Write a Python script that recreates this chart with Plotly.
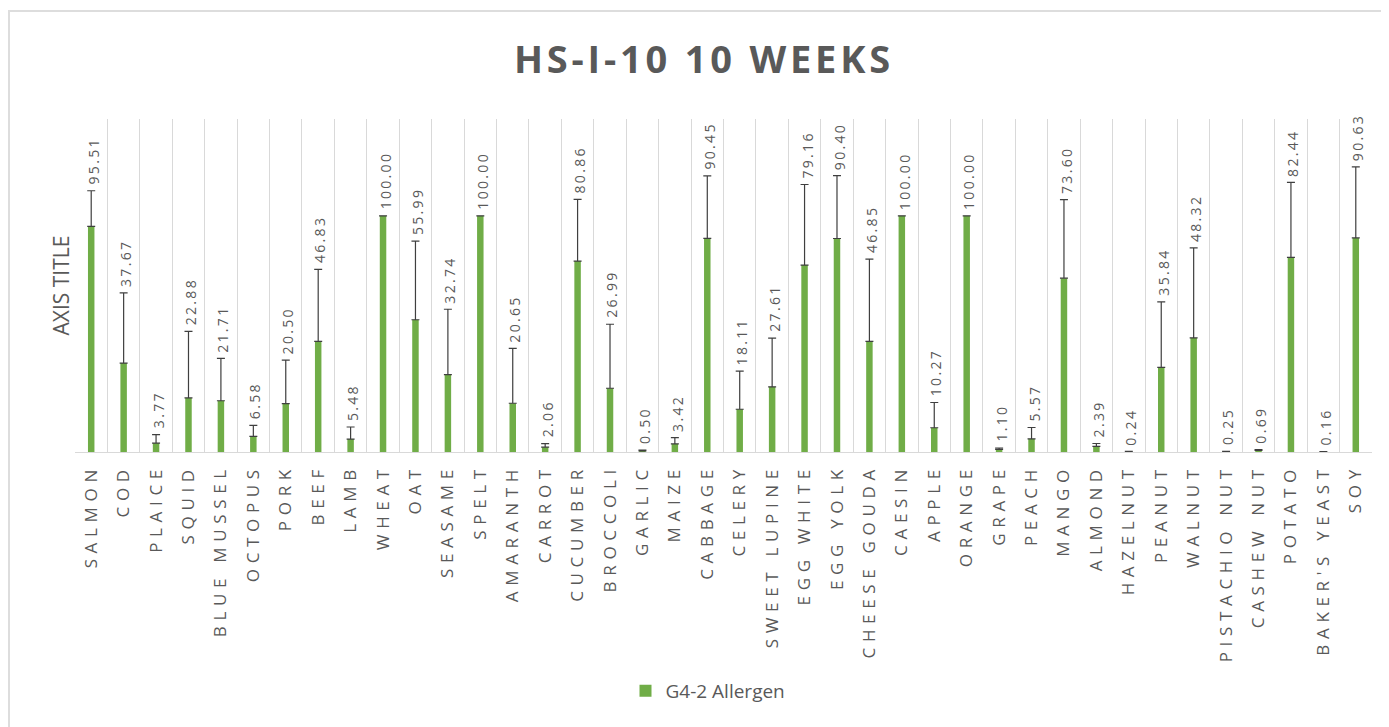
import plotly.graph_objects as go

categories = ["SALMON", "COD", "PLAICE", "SQUID", "BLUE MUSSEL", "OCTOPUS", "PORK", "BEEF", "LAMB",
              "WHEAT", "OAT", "SEASAME", "SPELT", "AMARANTH", "CARROT", "CUCUMBER", "BROCCOLI",
              "GARLIC", "MAIZE", "CABBAGE", "CELERY", "SWEET LUPINE", "EGG WHITE", "EGG YOLK",
              "CHEESE GOUDA", "CAESIN", "APPLE", "ORANGE", "GRAPE", "PEACH", "MANGO", "ALMOND",
              "HAZELNUT", "PEANUT", "WALNUT", "PISTACHIO NUT", "CASHEW NUT", "POTATO",
              "BAKER'S YEAST", "SOY"]
values = [95.51, 37.67, 3.77, 22.88, 21.71, 6.58, 20.50, 46.83, 5.48,
          100.00, 55.99, 32.74, 100.00, 20.65, 2.06, 80.86, 26.99,
          0.50, 3.42, 90.45, 18.11, 27.61, 79.16, 90.40,
          46.85, 100.00, 10.27, 100.00, 1.10, 5.57, 73.60, 2.39,
          0.24, 35.84, 48.32, 0.25, 0.69, 82.44,
          0.16, 90.63]
errors = [15.1, 29.7, 3.6, 28.2, 17.9, 4.7, 18.4, 30.5, 5.1,
          0.0, 33.3, 27.7, 0.0, 23.2, 1.5, 26.1, 27.1,
          0.3, 2.7, 26.5, 16.1, 20.6, 34.1, 26.6,
          34.8, 0.0, 10.7, 0.0, 0.6, 4.8, 33.3, 1.2,
          None, 27.7, 38.1, None, 0.3, 31.7,
          None, 30.1]
series_name = "G4-2 Allergen"
title_text = "HS-I-10 10 WEEKS"
y_title = "AXIS TITLE"

GREEN = "#70ad47"
GRAY = "#595959"


def spaced(s, gap, word_gap):
    words = s.split(" ")
    return word_gap.join(gap.join(list(w)) for w in words)


# page body has an 8px margin; figure is sized to fit the window
OFF = 8
W, H = 1389 - OFF, 727 - OFF
L, T = 75 - OFF, 119 - OFF
R = W - (1372 - OFF)
B = H - (452 - OFF)
pw, ph = W - L - R, H - T - B


def px_x(sx):
    return (sx - OFF - L) / pw


def px_y(sy):
    return (T + ph - (sy - OFF)) / ph


fig = go.Figure()
fig.add_trace(go.Bar(
    x=categories, y=values, name=series_name,
    marker=dict(color=GREEN, line=dict(width=0)),
    width=0.2,
    error_y=dict(type="data", symmetric=False,
                 array=[e if e is not None else float("nan") for e in errors],
                 arrayminus=[0] * len(values),
                 color="#3f3f3f", thickness=1.2, width=4),
    hoverinfo="skip",
))

for c, v, e in zip(categories, values, errors):
    top = v + (e if e is not None else 0)
    fig.add_annotation(x=c, y=top, text=spaced(f"{v:.2f}", "\u2009", " "), textangle=-90,
                       showarrow=False, xanchor="center", yanchor="bottom",
                       yshift=4, xshift=2,
                       font=dict(family="Open Sans", size=14, color=GRAY))

fig.add_annotation(xref="paper", yref="paper", x=px_x(60), y=0.5, text=y_title,
                   textangle=-90, showarrow=False, xanchor="center", yanchor="middle",
                   font=dict(family="Open Sans", size=21, color=GRAY))

fig.add_shape(type="rect", xref="paper", yref="paper",
              x0=px_x(9), x1=px_x(1385),
              y0=px_y(745), y1=px_y(11),
              line=dict(color="#dddddd", width=2), layer="below")

fig.update_layout(
    width=W, height=H,
    margin=dict(l=L, r=R, t=T, b=B),
    paper_bgcolor="white", plot_bgcolor="white",
    title=dict(text=spaced(title_text, "\u200a", "\u200a \u200a"), x=(702 - OFF) / W,
               xanchor="center", y=1 - (60 - OFF) / H, yanchor="middle",
               font=dict(family="Open Sans", size=38, color=GRAY, weight="bold")),
    xaxis=dict(type="category", tickson="boundaries", showgrid=True, gridcolor="#d9d9d9",
               gridwidth=1, showline=True, linecolor="#d9d9d9", ticks="",
               tickangle=-90, ticklabelstandoff=10,
               tickvals=categories,
               ticktext=[spaced(c, "\u2004", "\u2004\u00a0\u2004") for c in categories],
               tickfont=dict(family="Open Sans", size=17, color=GRAY)),
    yaxis=dict(range=[0, 141], showgrid=False, showticklabels=False, zeroline=False,
               showline=False, ticks=""),
    showlegend=True,
    legend=dict(orientation="h", x=px_x(708), xanchor="center",
                y=px_y(691), yanchor="middle",
                font=dict(family="Open Sans", size=19, color=GRAY)),
    bargap=0.8,
)

fig.write_html("out.html")
